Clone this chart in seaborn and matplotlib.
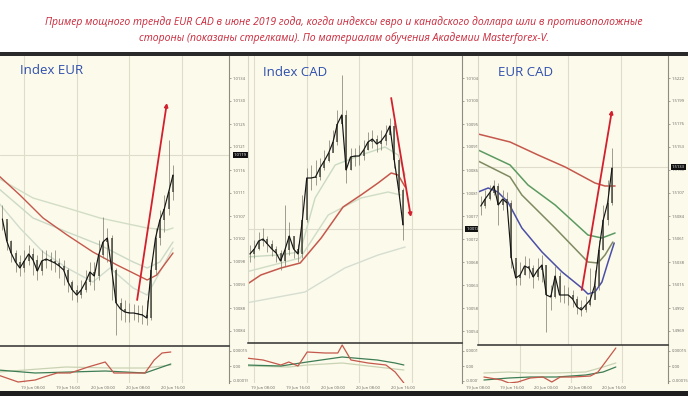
import numpy as np
import pandas as pd
import matplotlib
matplotlib.use("Agg")
import matplotlib.pyplot as plt
import matplotlib.transforms as mtransforms
from matplotlib.patches import Rectangle
import seaborn as sns

sns.set_style("white")
plt.rcParams['font.family'] = ['Open Sans', 'DejaVu Sans']

# ---------------- data ----------------
title_lines = [
    "Пример мощного тренда EUR CAD в июне 2019 года, когда индексы евро и канадского доллара шли в противоположные",
    "стороны (показаны стрелками). По материалам обучения Академии Masterforex-V.",
]
panel_names = ["Index EUR", "Index CAD", "EUR CAD"]
time_ticks = [8, 16, 24, 32, 40]          # hours after 19 Jun 00:00
time_labels = ["19 Jun 08:00", "19 Jun 16:00", "20 Jun 00:00", "20 Jun 08:00", "20 Jun 16:00"]
grid_hours = [6, 18, 30, 42]

# ---- Index EUR (hourly candles) ----
eur_t = list(range(1, 41))
eur_close = [1.01062, 1.01018, 1.00994, 1.00976, 1.00964, 1.00978, 1.00992, 1.00980, 1.00958, 1.00978,
             1.00982, 1.00978, 1.00974, 1.00968, 1.00960, 1.00936, 1.00920, 1.00910, 1.00920, 1.00936,
             1.00956, 1.00948, 1.00990, 1.01016, 1.01024, 1.00960, 1.00894, 1.00882, 1.00876, 1.00874,
             1.00874, 1.00872, 1.00870, 1.00864, 1.00960, 1.01024, 1.01060, 1.01082, 1.01116, 1.01150]
eur_high = [1.01090, 1.01056, 1.01020, 1.01000, 1.00990, 1.01000, 1.01010, 1.01004, 1.00990, 1.01000,
            1.01000, 1.00996, 1.01000, 1.00984, 1.00980, 1.00964, 1.00940, 1.00930, 1.00940, 1.00960,
            1.00976, 1.00976, 1.01020, 1.01066, 1.01044, 1.01030, 1.00964, 1.00904, 1.00900, 1.00894,
            1.00892, 1.00890, 1.00890, 1.00900, 1.00976, 1.01044, 1.01080, 1.01110, 1.01220, 1.01170]
eur_low = [1.01040, 1.01000, 1.00976, 1.00956, 1.00948, 1.00956, 1.00970, 1.00950, 1.00940, 1.00950,
           1.00964, 1.00960, 1.00956, 1.00944, 1.00930, 1.00916, 1.00900, 1.00896, 1.00904, 1.00916,
           1.00930, 1.00920, 1.00940, 1.00984, 1.00976, 1.00900, 1.00830, 1.00860, 1.00856, 1.00856,
           1.00860, 1.00856, 1.00852, 1.00850, 1.00860, 1.00950, 1.01010, 1.01036, 1.01070, 1.01100]
eur_ma_red_t = [0.0, 5.0, 10.3, 15.8, 21.7, 27.2, 31.8, 34.1, 36.3, 40.0]
eur_ma_red = [1.01150, 1.01110, 1.01064, 1.01030, 1.00996, 1.00970, 1.00950, 1.00940, 1.00950, 1.00994]
eur_ma_slow_t = [0.0, 8.0, 15.8, 23.3, 34.1, 38.6, 40.0]
eur_ma_slow = [1.01144, 1.01104, 1.01084, 1.01064, 1.01044, 1.01040, 1.01044]
eur_ma_mid_t = [0.0, 8.0, 15.8, 23.3, 30.9, 34.1, 37.0, 40.0]
eur_ma_mid = [1.01124, 1.01064, 1.01036, 1.01010, 1.00976, 1.00964, 1.00976, 1.01016]
eur_ma_fast_t = [0.0, 5.0, 10.3, 15.8, 21.7, 25.6, 30.9, 34.1, 37.0, 40.0]
eur_ma_fast = [1.01096, 1.01044, 1.00996, 1.00964, 1.00936, 1.00964, 1.00924, 1.00910, 1.00956, 1.01004]
eur_arrow_t = [31.8, 38.6]
eur_arrow_p = [1.00900, 1.01294]
eur_last = 1.01190
eur_osc_red_t = [0.0, 4.6, 8.5, 10.5, 13.5, 16.5, 20.6, 24.5, 26.5, 30.6, 33.6, 35.7, 37.5, 39.5]
eur_osc_red = [-0.00009, -0.00016, -0.00014, -0.00011, -0.00007, -0.00007, -0.00001, 0.00004,
               -0.00007, -0.00007, -0.00007, 0.00006, 0.00013, 0.00014]
eur_osc_green_t = [0.0, 8.5, 16.5, 24.5, 33.6, 39.5]
eur_osc_green = [-0.00004, -0.00007, -0.00006, -0.00005, -0.00007, 0.00002]
eur_osc_pale_t = [0.0, 15.5, 25.6, 33.6, 39.5]
eur_osc_pale = [-0.00006, -0.00001, -0.00002, -0.00002, 0.00001]

# ---- Index CAD ----
cad_t = list(range(5, 41))
cad_close = [1.00692, 1.00702, 1.00718, 1.00722, 1.00712, 1.00702, 1.00694, 1.00678, 1.00700, 1.00728,
             1.00702, 1.00692, 1.00760, 1.00844, 1.00844, 1.00846, 1.00864, 1.00878, 1.00894, 1.00916,
             1.00952, 1.00970, 1.00860, 1.00886, 1.00888, 1.00888, 1.00900, 1.00916, 1.00922, 1.00912,
             1.00918, 1.00930, 1.00948, 1.00880, 1.00820, 1.00750]
cad_high = [1.00710, 1.00720, 1.00736, 1.00744, 1.00728, 1.00720, 1.00708, 1.00700, 1.00790, 1.00756,
            1.00728, 1.00712, 1.00810, 1.00864, 1.00870, 1.00880, 1.00884, 1.00900, 1.00920, 1.00940,
            1.00980, 1.01050, 1.00980, 1.00904, 1.00904, 1.00910, 1.00920, 1.00936, 1.00940, 1.00930,
            1.00940, 1.00950, 1.00964, 1.00956, 1.00884, 1.00824]
cad_low = [1.00676, 1.00684, 1.00700, 1.00708, 1.00696, 1.00688, 1.00676, 1.00660, 1.00668, 1.00690,
           1.00684, 1.00676, 1.00684, 1.00756, 1.00820, 1.00830, 1.00840, 1.00860, 1.00876, 1.00896,
           1.00910, 1.00950, 1.00834, 1.00860, 1.00868, 1.00870, 1.00880, 1.00900, 1.00904, 1.00896,
           1.00900, 1.00910, 1.00930, 1.00864, 1.00804, 1.00720]
cad_ma_red_t = [4.1, 7.5, 12.1, 16.5, 21.3, 26.3, 30.4, 34.3, 37.3, 38.9, 40.5]
cad_ma_red = [1.00630, 1.00650, 1.00664, 1.00674, 1.00724, 1.00786, 1.00810, 1.00834, 1.00854, 1.00850, 1.00826]
cad_ma_fast_t = [4.1, 11.4, 16.5, 19.9, 24.5, 30.4, 35.9, 38.9, 40.5]
cad_ma_fast = [1.00686, 1.00690, 1.00696, 1.00804, 1.00870, 1.00890, 1.00906, 1.00890, 1.00850]
cad_ma_mid_t = [4.1, 16.5, 22.9, 30.4, 36.6, 39.5]
cad_ma_mid = [1.00656, 1.00684, 1.00770, 1.00804, 1.00816, 1.00810]
cad_ma_slow_t = [4.1, 17.6, 26.7, 34.3, 40.5]
cad_ma_slow = [1.00594, 1.00616, 1.00664, 1.00690, 1.00706]
cad_arrow_t = [37.3, 41.8]
cad_arrow_p = [1.01004, 1.00766]
cad_last = 1.00742
cad_osc_red_t = [4.1, 8.0, 12.1, 13.9, 16.0, 18.1, 22.2, 25.1, 26.1, 28.1, 32.0, 36.1, 38.2, 40.2]
cad_osc_red = [0.00008, 0.00006, 0.00001, 0.00004, 0.00000, 0.00014, 0.00013, 0.00013, 0.00021,
               0.00006, 0.00003, 0.00001, -0.00006, -0.00017]
cad_osc_green_t = [4.1, 12.1, 18.1, 26.1, 34.1, 38.2, 40.2]
cad_osc_green = [0.00001, 0.00000, 0.00004, 0.00009, 0.00006, 0.00003, 0.00001]
cad_osc_pale_t = [4.1, 13.9, 18.1, 26.1, 34.1, 40.2]
cad_osc_pale = [0.00000, -0.00001, 0.00001, 0.00003, -0.00001, -0.00004]

# ---- EUR CAD ----
ec_t = list(range(10, 41))
ec_close = [1.5094, 1.5101, 1.5107, 1.5114, 1.5095, 1.5101, 1.5097, 1.5042, 1.5022, 1.5025,
            1.5034, 1.5032, 1.5023, 1.5030, 1.5035, 1.5005, 1.5003, 1.5024, 1.5005, 1.5005,
            1.5005, 1.5001, 1.4993, 1.4990, 1.4995, 1.5000, 1.5014, 1.5050, 1.5080, 1.5097, 1.5132]
ec_high = [1.5104, 1.5110, 1.5115, 1.5120, 1.5117, 1.5110, 1.5108, 1.5100, 1.5038, 1.5038,
           1.5044, 1.5042, 1.5035, 1.5042, 1.5045, 1.5035, 1.5015, 1.5034, 1.5028, 1.5015,
           1.5013, 1.5010, 1.5004, 1.5000, 1.5004, 1.5032, 1.5030, 1.5060, 1.5095, 1.5120, 1.5152]
ec_low = [1.5085, 1.5092, 1.5100, 1.5105, 1.5075, 1.5090, 1.5088, 1.5032, 1.5015, 1.5015,
          1.5025, 1.5022, 1.5012, 1.5020, 1.5018, 1.4968, 1.4990, 1.5002, 1.4998, 1.4997,
          1.4995, 1.4993, 1.4986, 1.4984, 1.4988, 1.4994, 1.5002, 1.5010, 1.5050, 1.5075, 1.5095]
ec_ma_red_t = [9.4, 16.7, 23.1, 29.3, 36.1, 38.4, 40.7]
ec_ma_red = [1.5166, 1.5158, 1.5145, 1.5133, 1.5117, 1.5114, 1.5114]
ec_ma_green_t = [9.4, 16.7, 20.8, 27.0, 34.5, 37.7, 40.7]
ec_ma_green = [1.5150, 1.5135, 1.5115, 1.5095, 1.5065, 1.5062, 1.5067]
ec_ma_olive_t = [9.4, 16.7, 19.4, 27.0, 34.5, 36.8, 38.4, 40.2]
ec_ma_olive = [1.5139, 1.5123, 1.5105, 1.5072, 1.5038, 1.5037, 1.5045, 1.5058]
ec_ma_blue_t = [9.4, 11.7, 13.9, 16.2, 19.4, 24.0, 28.6, 33.1, 34.5, 36.1, 37.7, 39.1, 40.5]
ec_ma_blue = [1.5108, 1.5112, 1.5108, 1.5098, 1.5072, 1.5048, 1.5028, 1.5012, 1.5006, 1.5008,
              1.5018, 1.5038, 1.5057]
ec_arrow_t = [33.1, 40.0]
ec_arrow_p = [1.5010, 1.5190]
ec_last = 1.5133
ec_osc_red_t = [9.4, 13.5, 15.3, 17.4, 20.3, 23.3, 25.4, 27.4, 30.4, 34.5, 36.3, 38.4, 40.5]
ec_osc_red = [-0.00011, -0.00014, -0.00017, -0.00016, -0.00012, -0.00011, -0.00016, -0.00011,
              -0.00011, -0.00010, -0.00006, 0.00006, 0.00018]
ec_osc_green_t = [9.4, 15.3, 20.3, 26.5, 33.4, 37.5, 40.5]
ec_osc_green = [-0.00014, -0.00012, -0.00011, -0.00011, -0.00009, -0.00006, -0.00001]
ec_osc_pale_t = [9.4, 15.3, 20.3, 26.5, 33.4, 37.5, 40.5]
ec_osc_pale = [-0.00007, -0.00006, -0.00007, -0.00007, -0.00006, -0.00001, 0.00003]

# ---------------- layout / style ----------------
W, H = 688, 396
PX_PER_HOUR = 4.375
BG = "#fcfaea"
GRID = "#dfdccb"
RED_MA = "#c4584c"
ARROW = "#d3202e"


def box(x0, y0, x1, y1):
    return [x0 / W, 1 - y1 / H, (x1 - x0) / W, (y1 - y0) / H]


fig = plt.figure(figsize=(W / 100, H / 100), dpi=100)
fig.patch.set_facecolor("white")
fig.patches.append(Rectangle((0, 5 / H), 1, (391 - 56) / H, transform=fig.transFigure,
                             facecolor=BG, edgecolor="none", zorder=-10))
fig.patches.append(Rectangle((0, 1 - 56 / H), 1, 4 / H, transform=fig.transFigure,
                             facecolor="#2a2a2a", edgecolor="none", zorder=-5))
fig.patches.append(Rectangle((0, 0), 1, 5 / H, transform=fig.transFigure,
                             facecolor="#1e1e1e", edgecolor="none", zorder=-5))

for i, line_txt in enumerate(title_lines):
    fig.text(0.5, 1 - (22 + 16 * i) / H, line_txt, ha="center", va="center",
             color="#c9283a", fontsize=7.45, style="italic")


def line(ax, x, y, color, lw, z=3):
    sns.lineplot(x=x, y=y, ax=ax, color=color, linewidth=lw, estimator=None,
                 sort=False, legend=False, zorder=z)


panels = [
    dict(px=(0, 229), sep=346, base=1.0150, unit=0.00002, fmt="{:.4f}",
         t=eur_t, c=eur_close, h=eur_high, l=eur_low,
         mas=[(eur_ma_slow_t, eur_ma_slow, "#d2ddc6", 1.0), (eur_ma_mid_t, eur_ma_mid, "#cbd9c6", 1.0),
              (eur_ma_fast_t, eur_ma_fast, "#d0dccd", 1.0), (eur_ma_red_t, eur_ma_red, RED_MA, 1.0)],
         arrow=(eur_arrow_t, eur_arrow_p), last=eur_last,
         osc=[(eur_osc_pale_t, eur_osc_pale, "#c9d3b4"), (eur_osc_green_t, eur_osc_green, "#3d7d55"),
              (eur_osc_red_t, eur_osc_red, RED_MA)],
         name=panel_names[0], name_px=(20, 71)),
    dict(px=(248, 462), sep=343, base=1.0120, unit=0.00002, fmt="{:.4f}",
         t=cad_t, c=cad_close, h=cad_high, l=cad_low,
         mas=[(cad_ma_slow_t, cad_ma_slow, "#d5ded1", 1.0), (cad_ma_mid_t, cad_ma_mid, "#cfdcc6", 1.0),
              (cad_ma_fast_t, cad_ma_fast, "#cadac2", 1.0), (cad_ma_red_t, cad_ma_red, RED_MA, 1.1)],
         arrow=(cad_arrow_t, cad_arrow_p), last=cad_last,
         osc=[(cad_osc_pale_t, cad_osc_pale, "#c9d3b4"), (cad_osc_green_t, cad_osc_green, "#3d7d55"),
              (cad_osc_red_t, cad_osc_red, RED_MA)],
         name=panel_names[1], name_px=(263, 72)),
    dict(px=(478, 668), sep=345, base=1.5300, unit=0.0001, fmt="{:.4f}",
         t=ec_t, c=ec_close, h=ec_high, l=ec_low,
         mas=[(ec_ma_red_t, ec_ma_red, RED_MA, 1.1), (ec_ma_green_t, ec_ma_green, "#5c9a62", 1.1),
              (ec_ma_olive_t, ec_ma_olive, "#7f8a62", 1.1), (ec_ma_blue_t, ec_ma_blue, "#4b4fa6", 1.1)],
         arrow=(ec_arrow_t, ec_arrow_p), last=ec_last,
         osc=[(ec_osc_pale_t, ec_osc_pale, "#c9d3b4"), (ec_osc_green_t, ec_osc_green, "#3d7d55"),
              (ec_osc_red_t, ec_osc_red, RED_MA)],
         name=panel_names[2], name_px=(498, 72)),
]

label_kw = dict(labelsize=3.0, colors="#666660", length=1.2, width=0.4, pad=1.5)

for p in panels:
    x0, x1 = p["px"]
    # 19 Jun 08:00 sits at a fixed pixel in each panel
    t08 = {0: 33, 248: 263, 478: 472}[x0]
    xlim = (8 + (x0 - t08) / PX_PER_HOUR, 8 + (x1 - t08) / PX_PER_HOUR)

    ax = fig.add_axes(box(x0, 56, x1, p["sep"]))
    ax.set_zorder(2)
    ax.set_facecolor(BG)
    ax.set_xlim(*xlim)
    ax.set_ylim(p["base"] - p["unit"] * p["sep"], p["base"] - p["unit"] * 56)
    for g in grid_hours:
        ax.axvline(g, color=GRID, lw=0.8, zorder=1)
    ax.axhline(p["last"], color=GRID, lw=0.8, zorder=1)

    # moving averages
    for mt, mv, col, lw in p["mas"]:
        line(ax, mt, mv, col, lw, z=2)

    # candles
    t = np.array(p["t"], dtype=float)
    c = np.array(p["c"])
    o = np.r_[c[0], c[:-1]]
    ax.vlines(t, p["l"], p["h"], color="#7a7a6a", lw=0.5, zorder=3)
    ax.vlines(t, np.minimum(o, c), np.maximum(o, c), color="#4a4a40", lw=1.1, zorder=3)
    line(ax, p["t"], p["c"], "#141414", 0.85, z=4)

    # arrow
    at, ap = p["arrow"]
    ax.annotate("", xy=(at[1], ap[1]), xytext=(at[0], ap[0]),
                arrowprops=dict(arrowstyle="-|>", color=ARROW, lw=1.3,
                                mutation_scale=5, shrinkA=0, shrinkB=0), zorder=5)

    # price axis on the right
    yticks = [p["base"] - p["unit"] * (78 + 23 * k) for k in range(12)]
    ax.yaxis.tick_right()
    ax.set_yticks(yticks, [p["fmt"].format(v) for v in yticks])
    ax.set_xticks([])
    ax.tick_params(axis="y", **label_kw)
    for s in ["top", "bottom", "left"]:
        ax.spines[s].set_visible(False)
    ax.spines["right"].set_color("#8c8c80")
    ax.spines["right"].set_linewidth(0.8)
    if x0 > 0:
        ax.spines["left"].set_visible(True)
        ax.spines["left"].set_color("#d8d6c6")
        ax.spines["left"].set_linewidth(0.8)
    ax.set_ylabel("")
    ax.set_xlabel("")
    tr = mtransforms.blended_transform_factory(ax.transAxes, ax.transData)
    ax.text(1.02, p["last"], p["fmt"].format(p["last"]), transform=tr, fontsize=3.0,
            color="white", va="center", ha="left",
            bbox=dict(boxstyle="square,pad=0.25", fc="#111111", ec="none"), zorder=6, clip_on=False)

    ax.text(p["name_px"][0] / W, 1 - p["name_px"][1] / H, p["name"], color="#2f4fae",
            fontsize=9.5, ha="left", va="center", transform=fig.transFigure, zorder=7)

    # oscillator
    ox = fig.add_axes(box(x0, p["sep"], x1, 383))
    ox.set_zorder(2)
    ox.set_facecolor(BG)
    ox.set_xlim(*xlim)
    ox.set_ylim((366 - 383) * 1e-5, (366 - p["sep"]) * 1e-5)
    for g in grid_hours:
        ox.axvline(g, color=GRID, lw=0.8, zorder=1)
    for ot, ov, col in p["osc"]:
        line(ox, ot, ov, col, 0.9)
    ox.yaxis.tick_right()
    ox.set_yticks([0.00015, 0.0, -0.00015], ["0.00015", "0.00", "-0.00015"])
    ox.set_xticks(time_ticks, time_labels)
    ox.tick_params(axis="both", **label_kw)
    ox.tick_params(axis="x", length=0, pad=2.0)
    for s in ["bottom", "left"]:
        ox.spines[s].set_visible(False)
    ox.spines["top"].set_color("#2e2e2e")
    ox.spines["top"].set_linewidth(1.1)
    ox.spines["right"].set_color("#8c8c80")
    ox.spines["right"].set_linewidth(0.8)
    ox.set_ylabel("")
    ox.set_xlabel("")

fig.savefig("out.png", dpi=100, facecolor=fig.get_facecolor())
